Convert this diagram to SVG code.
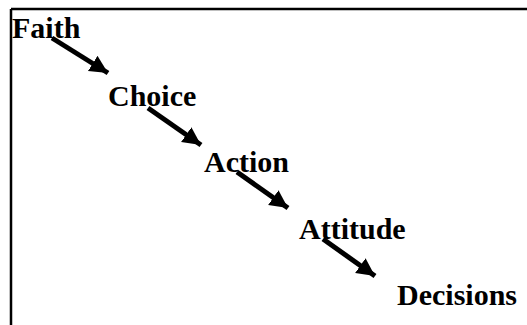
<svg xmlns="http://www.w3.org/2000/svg" width="527" height="325" viewBox="0 0 527 325">
<style>
.lbl{font-family:"Liberation Serif","Times New Roman",serif;font-weight:bold;font-size:30px;fill:#000}
.frame{stroke:#000;stroke-width:2.5;fill:none}
.arr{stroke:#000;stroke-width:5;fill:none;marker-end:url(#ah)}
</style>
<defs>
<marker id="ah" markerUnits="userSpaceOnUse" markerWidth="22" markerHeight="20" refX="18" refY="9" orient="auto">
<path d="M0,0 L18,9 L0,18 Z" fill="#000"/>
</marker>
</defs>
<g id="frame">
<line class="frame" x1="11" y1="9" x2="527" y2="9"/>
<line class="frame" x1="11" y1="9" x2="11" y2="325"/>
</g>
<g id="connectors">
<line class="arr" x1="52" y1="38" x2="108" y2="73"/>
<line class="arr" x1="148" y1="108" x2="201" y2="145"/>
<line class="arr" x1="237" y1="172" x2="288" y2="208"/>
<line class="arr" x1="323" y1="239" x2="375" y2="276"/>
</g>
<g id="faith"><text class="lbl" x="12" y="38">Faith</text></g>
<g id="choice"><text class="lbl" x="108" y="106">Choice</text></g>
<g id="action"><text class="lbl" x="204" y="172">Action</text></g>
<g id="attitude"><text class="lbl" x="299" y="239">Attitude</text></g>
<g id="decisions"><text class="lbl" x="397" y="305">Decisions</text></g>
</svg>
